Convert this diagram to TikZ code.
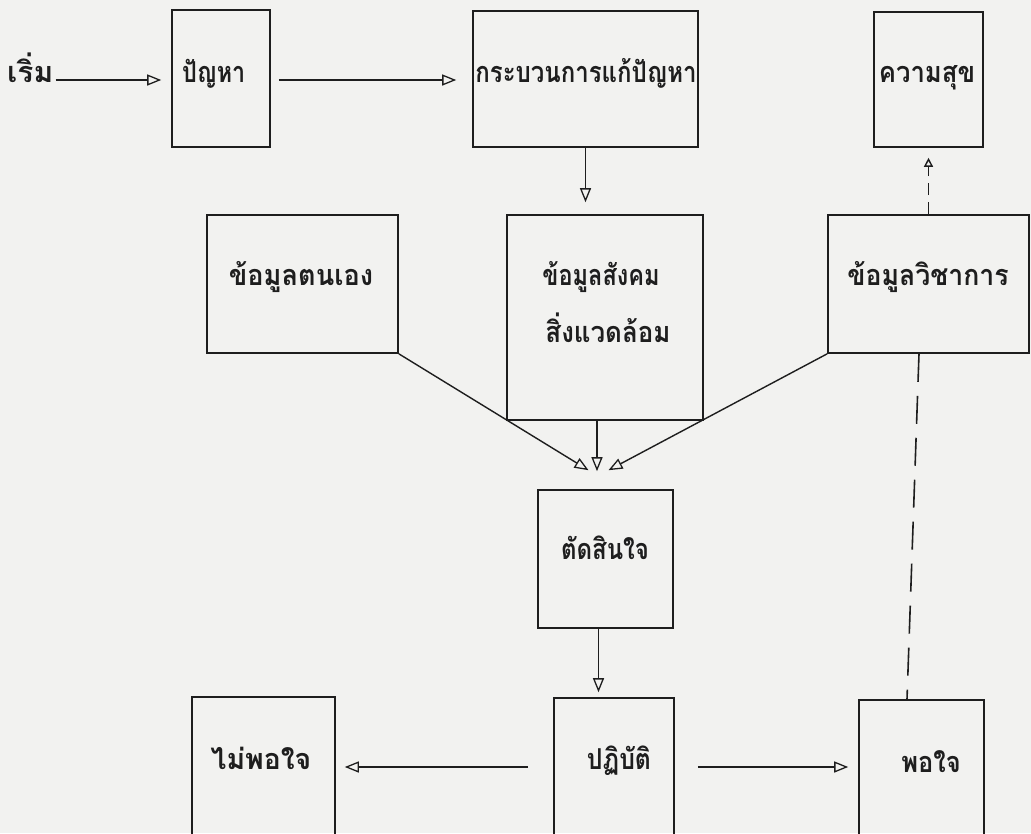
\documentclass[tikz,border=0pt]{standalone}
\usepackage{fontspec}
\newfontfamily\thai[Script=Thai]{Loma}
\usetikzlibrary{arrows.meta,calc}
\definecolor{bg}{RGB}{242,242,240}
\definecolor{ink}{RGB}{30,30,30}
\newcommand\thlab[2]{\scalebox{#1}[1.2]{#2}}
\begin{document}
\begin{tikzpicture}[x=1pt,y=-1pt,
  box/.style={draw=ink,line width=1.6pt,inner sep=0pt},
  lbl/.style={font=\thai\bfseries\fontsize{24}{28}\selectfont,text=ink,inner sep=0pt,anchor=mid},
  tip/.style={-{Triangle[open,length=14pt,width=11pt,line width=1.3pt]}},
  conn/.style={draw=ink,line width=1.4pt,tip},
  dashA/.style={draw=ink,line width=1.4pt,dash pattern=on 12pt off 7pt},
  dashB/.style={draw=ink,line width=1.6pt,dash pattern=on 28pt off 14pt}]
\fill[bg] (0,0) rectangle (1031,833);
\clip (0,0) rectangle (1031,833);
% boxes
\node[box,minimum width=98pt,minimum height=137pt] (p) at (221,78.5) {};
\node[box,minimum width=225pt,minimum height=136pt] (k) at (585.5,79) {};
\node[box,minimum width=109pt,minimum height=135pt] (h) at (928.5,79.5) {};
\node[box,minimum width=191pt,minimum height=138pt] (t) at (302.5,284) {};
\node[box,minimum width=196pt,minimum height=205pt] (s) at (605,317.5) {};
\node[box,minimum width=201pt,minimum height=138pt] (w) at (928.5,284) {};
\node[box,minimum width=135pt,minimum height=138pt] (d) at (605.5,559) {};
\node[box,minimum width=143pt,minimum height=163pt] (n) at (263.5,778.5) {};
\node[box,minimum width=120pt,minimum height=162pt] (a) at (614,779) {};
\node[box,minimum width=125pt,minimum height=160pt] (o) at (921.5,780) {};
% labels
\node[lbl,anchor=mid west] (st) at (7,80) {\thlab{1.25}{เริ่ม}};
\node[lbl,anchor=mid west] (pl) at (182,80) {\thlab{0.97}{ปัญหา}};
\node[lbl] (kl) at (586,80) {\thlab{1}{กระบวนการแก้ปัญหา}};
\node[lbl] (hl) at (927,80) {\thlab{1.07}{ความสุข}};
\node[lbl] (tl) at (301,283) {\thlab{1.13}{ข้อมูลตนเอง}};
\node[lbl] (sl1) at (601,283) {\thlab{0.98}{ข้อมูลสังคม}};
\node[lbl] (sl2) at (608,340) {\thlab{1.08}{สิ่งแวดล้อม}};
\node[lbl] (wl) at (928,283) {\thlab{1.11}{ข้อมูลวิชาการ}};
\node[lbl] (dl) at (605,557) {\thlab{1}{ตัดสินใจ}};
\node[lbl] (nl) at (261,767) {\thlab{1.18}{ไม่พอใจ}};
\node[lbl] (al) at (619,767) {\thlab{1.03}{ปฏิบัติ}};
\node[lbl] (ol) at (931,770) {\thlab{1.06}{พอใจ}};
% helper coordinates
\coordinate (r1) at (0,80);
\coordinate (r2) at (0,767);
\coordinate (tipL) at ($(d.north)+(-17,-19)$);
\coordinate (tipR) at ($(d.north)+(3,-19)$);
% connectors
\draw[conn,shorten <=2pt,shorten >=10pt] (st.mid east) -- (p.west |- r1);
\draw[conn,shorten <=8pt,shorten >=16pt] (p.east |- r1) -- (k.west |- r1);
\draw[conn,shorten >=12pt] (k.south) -- (k.south |- s.north);
\draw[conn,shorten >=18pt] ([xshift=-8pt]s.south) -- ([xshift=-8pt]s.south |- d.north);
\draw[conn] (t.south east) -- (tipL);
\draw[conn] (w.south west) -- (tipR);
\draw[conn,shorten >=5pt] ([xshift=-7pt]d.south) -- ([xshift=-7pt]d.south |- a.north);
\draw[conn,shorten <=25pt,shorten >=9pt] (a.west |- r2) -- (n.east |- r2);
\draw[conn,shorten <=23pt,shorten >=10pt] (a.east |- r2) -- (o.west |- r2);
\draw[dashA,-{Triangle[open,length=9pt,width=9pt,line width=1.4pt]},shorten >=10pt] (w.north) -- (w.north |- h.south);
\draw[dashB] ([xshift=-9.5pt]w.south) -- ([xshift=-14.5pt]o.north);
\end{tikzpicture}
\end{document}
